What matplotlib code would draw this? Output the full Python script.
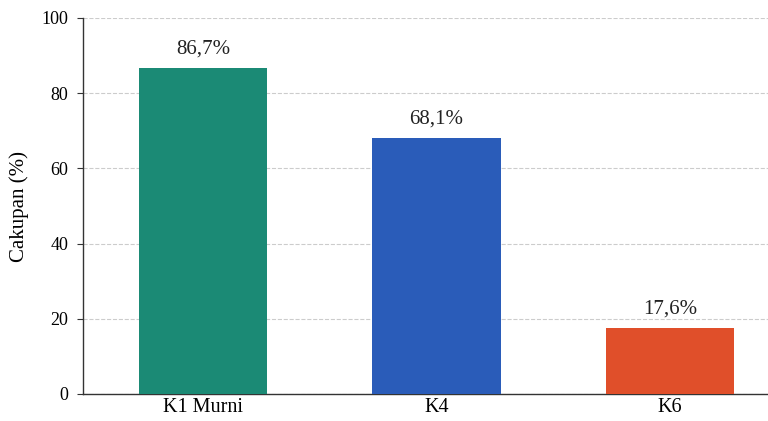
import matplotlib
matplotlib.use("Agg")
import matplotlib.pyplot as plt

categories = ["K1 Murni", "K4", "K6"]
values = [86.7, 68.1, 17.6]
value_labels = ["86,7%", "68,1%", "17,6%"]
colors = ["#1b8a75", "#2a5cb9", "#e04f2a"]
yticks = [0, 20, 40, 60, 80, 100]

plt.rcParams["font.family"] = ["Liberation Serif", "DejaVu Serif"]

fig = plt.figure(figsize=(7.68, 4.21), dpi=100)
ax = fig.add_axes([83/768, 1 - 394/421, 1 - 83/768, (394 - 18)/421])

x = list(range(len(categories)))
ax.bar(x, values, width=0.55, color=colors, zorder=3)
for xi, v, lab in zip(x, values, value_labels):
    ax.text(xi, v + 2.4, lab, ha="center", va="bottom", fontsize=15, color="#222222")

ax.set_xlim(-0.514, 2.42)
ax.set_ylim(0, 100)
ax.set_yticks(yticks)
ax.set_xticks(x)
ax.set_xticklabels(categories, fontsize=14.5)
ax.tick_params(axis="y", labelsize=13, length=4.5, pad=6, color="#333333")
ax.tick_params(axis="x", length=0, pad=3)
ax.set_ylabel("Cakupan (%)", fontsize=15, labelpad=9)
ax.yaxis.grid(True, linestyle="--", color="#cccccc", linewidth=0.8, zorder=0)
ax.set_axisbelow(True)
for s in ["top", "right"]:
    ax.spines[s].set_visible(False)
for s in ["left", "bottom"]:
    ax.spines[s].set_color("#333333")
    ax.spines[s].set_linewidth(1.0)

fig.savefig("out.png", dpi=100)
